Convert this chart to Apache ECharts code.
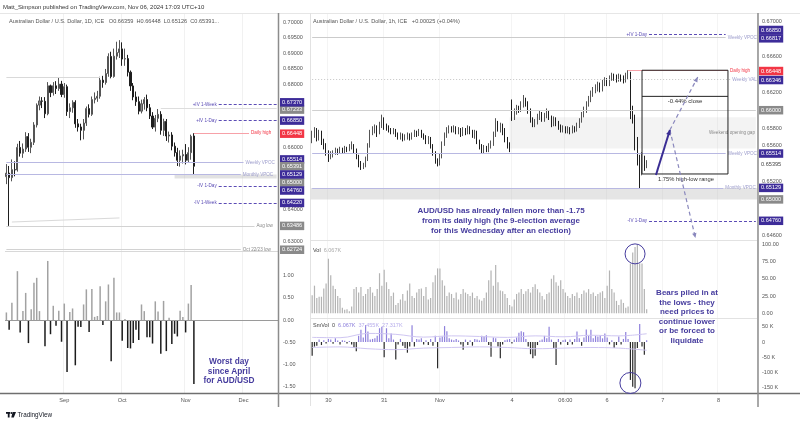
<!DOCTYPE html>
<html>
<head>
<meta charset="utf-8">
<script src="https://cdn.jsdelivr.net/npm/echarts@6/dist/echarts.min.js"></script>
<style>
html,body{margin:0;padding:0;background:#fff;}
#chart{width:800px;height:424px;}
</style>
</head>
<body>
<div id="chart"></div>
<script>
// ================= DATA =================
// Left pane: AUD/USD daily (Aug 2 - Nov 6, 2024)
const leftTickIdx = [21, 42, 65, 86];
const leftTickText = ['Sep', 'Oct', 'Nov', 'Dec'];
const leftPriceTicks = [0.70, 0.695, 0.69, 0.685, 0.68, 0.66, 0.64, 0.63];
const leftOscTicks = [1, 0.5, 0, -0.5, -1, -1.5];

const leftOpen = [0.65060, 0.65171, 0.65028, 0.65282, 0.65275, 0.65993, 0.65808, 0.65940, 0.66342, 0.65997,
 0.66155, 0.66711, 0.67345, 0.67480, 0.67467, 0.67069, 0.67961, 0.67744, 0.67961, 0.67873,
 0.68016, 0.67683, 0.67933, 0.67138, 0.67259, 0.67434, 0.66746, 0.66646, 0.66539, 0.66772,
 0.67233, 0.67051, 0.67520, 0.67567, 0.67628, 0.68142, 0.68067, 0.68353, 0.68900, 0.68259,
 0.68907, 0.69024, 0.69141, 0.68816, 0.68830, 0.68396, 0.67958, 0.67605, 0.67456, 0.67152,
 0.67387, 0.67522, 0.67259, 0.66997, 0.66642, 0.66922, 0.67049, 0.66539, 0.66825, 0.66357,
 0.66390, 0.66032, 0.65827, 0.65583, 0.65721, 0.65767, 0.65583, 0.65826, 0.66359];
const leftHigh = [0.6546, 0.6540, 0.6561, 0.6555, 0.6611, 0.6620, 0.6612, 0.6648, 0.6645, 0.6627,
 0.6680, 0.6740, 0.6762, 0.6760, 0.6760, 0.6808, 0.6800, 0.6808, 0.6811, 0.6824,
 0.6812, 0.6805, 0.6800, 0.6740, 0.6750, 0.6750, 0.6690, 0.6675, 0.6690, 0.6730,
 0.6737, 0.6762, 0.6775, 0.6780, 0.6825, 0.6828, 0.6850, 0.6900, 0.6905, 0.6915,
 0.6937, 0.6942, 0.6935, 0.6915, 0.6895, 0.6845, 0.6805, 0.6778, 0.6762, 0.6752,
 0.6760, 0.6768, 0.6738, 0.6712, 0.6703, 0.6722, 0.6715, 0.6691, 0.6690, 0.6650,
 0.6648, 0.6615, 0.6598, 0.6590, 0.6592, 0.6610, 0.6600, 0.6640, 0.66448];
const leftLow = [0.6482, 0.63486, 0.6491, 0.6507, 0.6522, 0.6570, 0.6566, 0.6585, 0.6585, 0.6581,
 0.6607, 0.6663, 0.6718, 0.6725, 0.6693, 0.6702, 0.6760, 0.6765, 0.6770, 0.6780,
 0.6760, 0.6758, 0.6700, 0.6693, 0.6710, 0.6662, 0.6650, 0.6622, 0.6625, 0.6668,
 0.6695, 0.6700, 0.6740, 0.6745, 0.6755, 0.6790, 0.6800, 0.6825, 0.6820, 0.6822,
 0.6880, 0.6885, 0.6860, 0.6860, 0.6826, 0.6780, 0.6750, 0.6732, 0.6705, 0.6708,
 0.6720, 0.6715, 0.6690, 0.6658, 0.6650, 0.6680, 0.6640, 0.6636, 0.6620, 0.6615,
 0.6590, 0.6570, 0.6540, 0.6538, 0.6548, 0.6545, 0.6550, 0.6560, 0.65126];
const leftClose = [0.65171, 0.65028, 0.65282, 0.65275, 0.65993, 0.65808, 0.65940, 0.66342, 0.65997, 0.66155,
 0.66711, 0.67345, 0.67480, 0.67467, 0.67069, 0.67961, 0.67744, 0.67961, 0.67873, 0.68016,
 0.67683, 0.67933, 0.67138, 0.67259, 0.67434, 0.66746, 0.66646, 0.66539, 0.66772, 0.67233,
 0.67051, 0.67520, 0.67567, 0.67628, 0.68142, 0.68067, 0.68353, 0.68900, 0.68259, 0.68907,
 0.69024, 0.69141, 0.68816, 0.68830, 0.68396, 0.67958, 0.67605, 0.67456, 0.67152, 0.67387,
 0.67522, 0.67259, 0.66997, 0.66642, 0.66922, 0.67049, 0.66539, 0.66825, 0.66357, 0.66390,
 0.66032, 0.65827, 0.65583, 0.65721, 0.65767, 0.65583, 0.65826, 0.66346, 0.65391];
// daily % change histogram
const leftPct = [0.17, -0.22, 0.39, -0.01, 1.10, -0.28, 0.20, 0.61, -0.52, 0.24,
 0.84, 0.95, 0.20, -0.02, -0.59, 1.33, -0.32, 0.32, -0.13, 0.21,
 -0.49, 0.37, -1.17, 0.18, 0.26, -1.02, -0.15, -0.16, 0.35, 0.69,
 -0.27, 0.70, 0.07, 0.09, 0.76, -0.11, 0.42, 0.80, -0.93, 0.95,
 0.17, 0.17, -0.47, 0.02, -0.63, -0.64, -0.52, -0.22, -0.45, 0.35,
 0.20, -0.39, -0.39, -0.53, 0.42, 0.19, -0.76, 0.43, -0.70, 0.05,
 -0.54, -0.31, -0.37, 0.21, 0.07, -0.28, 0.37, 0.79, -1.44];
// price-scale tags (value, kind p=purple r=red g=gray t=plain, vertical nudge px)
const leftTagValues = [0.67233, 0.67370, 0.66850, 0.66448, 0.65514, 0.65391, 0.65000, 0.65129, 0.64760, 0.64220, 0.63486, 0.62724];
const leftTagKinds  = ['g', 'p', 'p', 'r', 'p', 'g', 'g', 'p', 'p', 'p', 'g', 'g'];
const leftTagNudge  = [1, -2, 0, 0.5, -3, 0, 4, 0, 4.5, 0, 0, 0];

// Right pane: AUD/USD 1h (Oct 29 17:00 - Nov 6 17:00, UTC+10)
const rightTickIdx = [7, 31, 55, 86, 109, 127, 151, 175];
const rightTickText = ['30', '31', 'Nov', '4', '06:00', '6', '7', '8'];
const rightPriceTicks = [0.670, 0.666, 0.662, 0.658, 0.656, 0.652, 0.646];
const volTicks = [0, 25, 50, 75, 100];
const smTicks = [50, 0, -50, -100, -150];
const rightTagValues = [0.66850, 0.66817, 0.66448, 0.66346, 0.66000, 0.65514, 0.65395, 0.65129, 0.65000, 0.64760];
const rightTagKinds  = ['p', 'p', 'r', 'p', 'g', 'p', 't', 'p', 'g', 'p'];
const rightTagNudge  = [-4.4, 1, 0.8, 0.7, 0, 0, 0, 0, 0, 0];

const rightOpen = [0.6568, 0.6572, 0.6578, 0.6568,
 0.6575, 0.6565, 0.6560, 0.6552, 0.6547,
 0.6550, 0.6552, 0.6555, 0.6553, 0.6556, 0.6554, 0.6557, 0.6556, 0.6558, 0.6560,
 0.6555, 0.6548, 0.6540, 0.6536, 0.6538,
 0.6545, 0.6560, 0.6575,
 0.6578, 0.6580, 0.6576, 0.6583, 0.6590,
 0.6582, 0.6580, 0.6578, 0.6576, 0.6577, 0.6573, 0.6570, 0.6572, 0.6568,
 0.6570, 0.6572, 0.6569, 0.6572, 0.6575, 0.6573, 0.6576, 0.6572, 0.6570, 0.6565, 0.6568,
 0.6560, 0.6552, 0.6543, 0.6540,
 0.6548, 0.6562, 0.6572, 0.6577, 0.6580,
 0.6578, 0.6580, 0.6576, 0.6578, 0.6573, 0.6578, 0.6575, 0.6580, 0.6576, 0.6572,
 0.6575, 0.6565, 0.6560, 0.6555, 0.6558, 0.6556, 0.6560,
 0.6562, 0.6572, 0.6585, 0.6580, 0.6582,
 0.6578, 0.6568, 0.6562,
 0.6598, 0.6592, 0.6598, 0.6602, 0.6600, 0.6606, 0.6612,
 0.6608, 0.6600, 0.6590, 0.6584,
 0.6587, 0.6592, 0.6596, 0.6590, 0.6594, 0.6598, 0.6592, 0.6585, 0.6590,
 0.6586, 0.6582, 0.6578, 0.6580, 0.6577, 0.6579, 0.6576, 0.6580, 0.6578,
 0.6583, 0.6588, 0.6595, 0.6600, 0.6607, 0.6612, 0.6618,
 0.6622, 0.6625, 0.6628, 0.6624, 0.6630, 0.6633, 0.6630, 0.6636,
 0.6638, 0.6637, 0.6635, 0.6638, 0.6636, 0.6634,
 0.6639, 0.6641, 0.6600, 0.6592, 0.6568, 0.6546, 0.6530, 0.6545, 0.6538];
const rightHigh = [0.6577, 0.6581, 0.6580, 0.6578,
 0.6577, 0.6568, 0.6563, 0.6555, 0.6554,
 0.6555, 0.6558, 0.6557, 0.6559, 0.6558, 0.6560, 0.6559, 0.6562, 0.6565, 0.6562,
 0.6557, 0.6550, 0.6543, 0.6541, 0.6548,
 0.6563, 0.6578, 0.6582,
 0.6584, 0.6583, 0.6587, 0.6595, 0.6592,
 0.6585, 0.6583, 0.6580, 0.6580, 0.6579, 0.6575, 0.6575, 0.6574, 0.6573,
 0.6575, 0.6574, 0.6575, 0.6578, 0.6577, 0.6579, 0.6578, 0.6574, 0.6572, 0.6571, 0.6570,
 0.6562, 0.6554, 0.6546, 0.6551,
 0.6565, 0.6575, 0.6581, 0.6583, 0.6582,
 0.6583, 0.6582, 0.6581, 0.6580, 0.6581, 0.6580, 0.6583, 0.6582, 0.6578, 0.6578,
 0.6577, 0.6567, 0.6562, 0.6561, 0.6560, 0.6563, 0.6566,
 0.6576, 0.6591, 0.6588, 0.6586, 0.6585,
 0.6580, 0.6570, 0.6564,
 0.6612, 0.6602, 0.6606, 0.6605, 0.6610, 0.6617, 0.6614,
 0.6610, 0.6602, 0.6592, 0.6590,
 0.6596, 0.6600, 0.6598, 0.6597, 0.6602, 0.6600, 0.6594, 0.6593, 0.6592,
 0.6588, 0.6584, 0.6583, 0.6582, 0.6582, 0.6581, 0.6583, 0.6582, 0.6586,
 0.6591, 0.6598, 0.6604, 0.6610, 0.6616, 0.6622, 0.6626,
 0.6629, 0.6632, 0.6631, 0.6634, 0.6637, 0.6636, 0.6639, 0.6642,
 0.6641, 0.6640, 0.6641, 0.6640, 0.6639, 0.6642,
 0.66448, 0.6643, 0.6605, 0.6595, 0.6570, 0.6550, 0.6553, 0.6549, 0.6544];
const rightLow = [0.6563, 0.6569, 0.6565, 0.6566,
 0.6561, 0.6556, 0.6549, 0.6542, 0.6545,
 0.6547, 0.6550, 0.6550, 0.6551, 0.6551, 0.6552, 0.6553, 0.6554, 0.6556, 0.6552,
 0.6545, 0.6536, 0.6533, 0.6534, 0.6536,
 0.6543, 0.6558, 0.6572,
 0.6574, 0.6570, 0.6573, 0.6580, 0.6578,
 0.6577, 0.6575, 0.6573, 0.6573, 0.6570, 0.6567, 0.6567, 0.6565, 0.6566,
 0.6567, 0.6566, 0.6567, 0.6570, 0.6570, 0.6571, 0.6569, 0.6567, 0.6562, 0.6562, 0.6557,
 0.6549, 0.6540, 0.6537, 0.6538,
 0.6546, 0.6560, 0.6569, 0.6574, 0.6575,
 0.6575, 0.6573, 0.6573, 0.6570, 0.6571, 0.6572, 0.6573, 0.6573, 0.6569, 0.6568,
 0.6562, 0.6556, 0.6551, 0.6552, 0.6553, 0.6553, 0.6557,
 0.6560, 0.6570, 0.6576, 0.6575, 0.6572,
 0.6564, 0.6557, 0.6553,
 0.6588, 0.6589, 0.6595, 0.6597, 0.6598, 0.6603, 0.6604,
 0.6596, 0.6586, 0.6581, 0.6581,
 0.6584, 0.6589, 0.6587, 0.6587, 0.6591, 0.6589, 0.6581, 0.6582, 0.6582,
 0.6578, 0.6575, 0.6575, 0.6574, 0.6574, 0.6573, 0.6574, 0.6575, 0.6576,
 0.6580, 0.6586, 0.6592, 0.6597, 0.6604, 0.6609, 0.6615,
 0.6619, 0.6621, 0.6620, 0.6621, 0.6627, 0.6627, 0.6627, 0.6633,
 0.6633, 0.6631, 0.6632, 0.6632, 0.6630, 0.6631,
 0.6635, 0.6590, 0.6585, 0.6555, 0.6538, 0.65126, 0.6527, 0.6532, 0.6535];
const rightClose = [0.6572, 0.6578, 0.6568, 0.6575,
 0.6565, 0.6560, 0.6552, 0.6547, 0.6550,
 0.6552, 0.6555, 0.6553, 0.6556, 0.6554, 0.6557, 0.6556, 0.6558, 0.6560, 0.6555,
 0.6548, 0.6540, 0.6536, 0.6538, 0.6545,
 0.6560, 0.6575, 0.6578,
 0.6580, 0.6576, 0.6583, 0.6590, 0.6582,
 0.6580, 0.6578, 0.6576, 0.6577, 0.6573, 0.6570, 0.6572, 0.6568, 0.6570,
 0.6572, 0.6569, 0.6572, 0.6575, 0.6573, 0.6576, 0.6572, 0.6570, 0.6565, 0.6568, 0.6560,
 0.6552, 0.6543, 0.6540, 0.6548,
 0.6562, 0.6572, 0.6577, 0.6580, 0.6578,
 0.6580, 0.6576, 0.6578, 0.6573, 0.6578, 0.6575, 0.6580, 0.6576, 0.6572, 0.6575,
 0.6565, 0.6560, 0.6555, 0.6558, 0.6556, 0.6560, 0.6562,
 0.6572, 0.6585, 0.6580, 0.6582, 0.6578,
 0.6568, 0.6562, 0.6557,
 0.6592, 0.6598, 0.6602, 0.6600, 0.6606, 0.6612, 0.6608,
 0.6600, 0.6590, 0.6584, 0.6587,
 0.6592, 0.6596, 0.6590, 0.6594, 0.6598, 0.6592, 0.6585, 0.6590, 0.6586,
 0.6582, 0.6578, 0.6580, 0.6577, 0.6579, 0.6576, 0.6580, 0.6578, 0.6583,
 0.6588, 0.6595, 0.6600, 0.6607, 0.6612, 0.6618, 0.6622,
 0.6625, 0.6628, 0.6624, 0.6630, 0.6633, 0.6630, 0.6636, 0.6638,
 0.6637, 0.6635, 0.6638, 0.6636, 0.6634, 0.6639,
 0.6641, 0.6600, 0.6592, 0.6568, 0.6546, 0.6530, 0.6545, 0.6538, 0.65395];
const rightVol = [26, 40, 22, 24, 24, 36, 43, 79, 55, 40,
 35, 25, 22, 8, 5, 6, 3, 10, 35, 38,
 30, 38, 25, 28, 35, 38, 30, 25, 35, 58,
 40, 63, 45, 35, 25, 30, 12, 15, 20, 28,
 18, 33, 43, 25, 22, 30, 35, 36, 25, 38,
 20, 22, 45, 55, 65, 65, 48, 40, 25, 30,
 28, 22, 30, 20, 28, 35, 30, 28, 25, 30,
 22, 25, 20, 18, 22, 30, 48, 62, 40, 70,
 45, 33, 32, 28, 22, 12, 10, 20, 28, 30,
 35, 28, 32, 35, 30, 38, 42, 35, 30, 25,
 20, 28, 30, 50, 55, 45, 40, 48, 35, 30,
 25, 22, 28, 25, 30, 22, 28, 33, 30, 35,
 28, 30, 25, 28, 30, 32, 22, 40, 62, 35,
 30, 18, 12, 20, 15, 8, 10, 72, 88, 96,
 99, 72, 72, 35, 6];
const rightSmVol = [-45, -15, -12, 8, -10, 6, -5, 10, 8, -6,
 12, 5, -8, 6, 4, -5, 3, -8, -20, -30,
 20, 40, 15, 55, 34, 8, 10, 12, 20, 45,
 50, -50, 45, 12, 28, 8, -57, -8, 10, -12,
 -20, -35, -15, 55, -15, 10, 8, 12, -8, 6,
 -10, 10, -12, 20, -86, 15, 18, 52, 35, 12,
 8, 6, 10, 5, -8, -25, 8, -10, 6, -12,
 10, 8, 5, 20, 18, 22, -10, -48, 15, 12,
 -15, -53, -8, 6, 8, 10, -5, 8, 15, 30,
 35, 32, 10, -15, -40, -53, -45, -10, 5, 8,
 20, 12, 50, 8, -20, -75, 10, -8, 6, 8,
 -10, 8, -8, 10, 34, 12, -12, 15, 41, 20,
 40, 12, 20, 18, 20, 12, 28, 15, -8, 6,
 -20, -10, 18, -8, 10, 33, 10, -124, -146, -151,
 -20, 59, -15, -42, 6];
const smEnvIdx = [0, 12, 24, 36, 48, 60, 72, 84, 96, 108, 120, 132, 144];
const smUpper = [15, 14, 28, 25, 16, 20, 18, 15, 20, 17, 22, 20, 27];
const smLower = [-18, -16, -22, -25, -20, -18, -16, -18, -22, -20, -18, -20, -27];

// ================= LAYOUT / STYLE =================
const FONT = "'Liberation Sans', Arial, sans-serif";
const LEFT_SLOTS = 99, RIGHT_SLOTS = 192;
const PURPLE = '#3d2c99', GRAYTAG = '#8a8a8a', RED = '#f23645';
const TAGBG = {p: PURPLE, r: RED, g: GRAYTAG, t: 'rgba(0,0,0,0)'};
const TAGFG = {p: '#ffffff', r: '#ffffff', g: '#ffffff', t: '#444444'};
const IVLINE = '#5b4cb5', IVTXT = '#5b4cb5', VPOC = '#b8b8e2', VPOCTXT = '#9d9dcc';
const ANN = '#463c9e';

const leftCats = Array.from({length: LEFT_SLOTS}, (_, i) => 'd' + i);
const rightCats = Array.from({length: RIGHT_SLOTS}, (_, i) => 'h' + i);

function segItem(x0, x1, v, color, type, text, pos, tcolor) {
  return [{coord: [x0, v], lineStyle: {color: color, type: type, width: 1},
    label: text ? {show: true, position: pos, formatter: text, color: tcolor, fontSize: 4.6, distance: 2, fontFamily: FONT} : {show: false}},
    {coord: [x1, v]}];
}
function xCat(g, cats, tickIdx, tickText, show, splitColor) {
  const isTick = (i) => tickIdx.indexOf(i) >= 0;
  return {type: 'category', gridIndex: g, data: cats, boundaryGap: true,
    axisLine: {show: false}, axisTick: {show: false},
    axisLabel: {show: show, interval: (i) => isTick(i), formatter: (v, i) => { const k = tickIdx.indexOf(i); return k >= 0 ? tickText[k] : ''; },
      fontSize: 5.6, color: '#555', margin: 4, fontFamily: FONT},
    splitLine: {show: true, interval: (i) => isTick(i), lineStyle: {color: splitColor, width: 1}}};
}
function yVal(g, min, max, ticks, fmt) {
  return {type: 'value', gridIndex: g, position: 'right', min: min, max: max,
    axisLine: {show: false}, axisTick: {show: false}, splitLine: {show: false},
    axisLabel: {show: true, customValues: ticks, formatter: fmt, fontSize: 5.5, color: '#555', margin: 5, fontFamily: FONT, hideOverlap: false}};
}

const leftK = leftOpen.map((o, i) => [o, leftClose[i], leftLow[i], leftHigh[i]]);
const rightK = rightOpen.map((o, i) => [o, rightClose[i], rightLow[i], rightHigh[i]]);

const option = {
  animation: false,
  backgroundColor: '#ffffff',
  textStyle: {fontFamily: FONT},
  grid: [
    {left: 5, top: 14, width: 273, height: 237},
    {left: 5, top: 251, width: 273, height: 142},
    {left: 311, top: 14, width: 446, height: 226},
    {left: 311, top: 240, width: 446, height: 78},
    {left: 311, top: 318, width: 446, height: 75}
  ],
  xAxis: [
    xCat(0, leftCats, leftTickIdx, leftTickText, false, '#f1f1f1'),
    xCat(1, leftCats, leftTickIdx, leftTickText, true, '#f1f1f1'),
    xCat(2, rightCats, rightTickIdx, rightTickText, false, '#f4f4f4'),
    xCat(3, rightCats, rightTickIdx, rightTickText, false, '#f4f4f4'),
    xCat(4, rightCats, rightTickIdx, rightTickText, true, '#f4f4f4')
  ],
  yAxis: [
    yVal(0, 0.626837, 0.702556, leftPriceTicks, (v) => v.toFixed(5)),
    yVal(1, -1.644, 1.554, leftOscTicks, (v) => v.toFixed(2)),
    yVal(2, 0.645448, 0.670785, rightPriceTicks, (v) => v.toFixed(5)),
    yVal(3, -6.8, 106.1, volTicks, (v) => v.toFixed(2)),
    yVal(4, -166.7, 78.4, smTicks, (v) => v === 0 ? '0' : v + ' K')
  ],
  series: [
    {type: 'candlestick', xAxisIndex: 0, yAxisIndex: 0, data: leftK, barWidth: 1.6,
      itemStyle: {color: '#8a8a8a', color0: '#1e1e1e', borderColor: '#555555', borderColor0: '#1e1e1e', borderWidth: 1},
      markArea: {silent: true, itemStyle: {color: 'rgba(190,190,190,0.45)'},
        data: [[{xAxis: 61, yAxis: 0.65129}, {xAxis: 98, yAxis: 0.65000}]]},
      markLine: {silent: true, symbol: ['none', 'none'], animation: false,
        data: [
          segItem(0, 34, 0.6823, '#d9d9d9', 'solid'),
          [{coord: [2, 0.6361], lineStyle: {color: '#d9d9d9', width: 1, type: 'solid'}, label: {show: false}}, {coord: [41, 0.6374]}],
          segItem(56, 98, 0.67233, '#dddddd', 'solid'),
          segItem(77, 98, 0.67370, IVLINE, [3, 2], '+IV 1-Week', 'start', IVTXT),
          segItem(77, 98, 0.66850, IVLINE, [3, 2], '+IV 1-Day', 'start', IVTXT),
          segItem(68, 88, 0.66448, '#f7a1a8', 'solid', 'Daily high', 'end', RED),
          segItem(0, 86, 0.65514, VPOC, 'solid', 'Weekly VPOC', 'end', VPOCTXT),
          segItem(0, 85, 0.65129, VPOC, 'solid', 'Monthly VPOC', 'end', VPOCTXT),
          segItem(77, 98, 0.64760, IVLINE, [3, 2], '-IV 1-Day', 'start', IVTXT),
          segItem(77, 98, 0.64220, IVLINE, [3, 2], '-IV 1-Week', 'start', IVTXT),
          segItem(0, 90, 0.63486, '#d2d2d2', 'solid', 'Aug low', 'end', '#888'),
          segItem(0, 85, 0.62724, '#d2d2d2', 'solid', 'Oct 22/23 low', 'end', '#888')
        ]}},
    {type: 'bar', xAxisIndex: 1, yAxisIndex: 1, barWidth: 1.5,
      data: leftPct.map(v => ({value: v, itemStyle: {color: v >= 0 ? '#a2a2a2' : '#1c1c1c'}})),
      markLine: {silent: true, symbol: ['none', 'none'], label: {show: false},
        data: [{yAxis: 0, lineStyle: {color: '#9a9a9a', width: 1, type: 'solid'}}]}},
    {type: 'candlestick', xAxisIndex: 2, yAxisIndex: 2, data: rightK, barWidth: 1.3,
      itemStyle: {color: '#7a7a7a', color0: '#1e1e1e', borderColor: '#555555', borderColor0: '#1e1e1e', borderWidth: 1},
      markArea: {silent: true,
        data: [
          [{xAxis: 85, yAxis: 0.6592, itemStyle: {color: 'rgba(200,200,200,0.22)'}}, {xAxis: 191, yAxis: 0.6557}],
          [{yAxis: 0.65129, itemStyle: {color: 'rgba(190,190,190,0.4)'}}, {yAxis: 0.65000}]
        ]},
      markLine: {silent: true, symbol: ['none', 'none'], animation: false,
        data: [
          segItem(0, 178, 0.66817, '#cbcbcb', 'solid', 'Weekly VPOC', 'end', VPOCTXT),
          segItem(145, 178, 0.66850, IVLINE, [3, 2], '+IV 1-Day', 'start', IVTXT),
          segItem(136, 179, 0.66448, '#f7a1a8', 'solid', 'Daily high', 'end', RED),
          segItem(0, 180, 0.66346, '#c4c4c4', [1, 2], 'Weekly VAL', 'end', VPOCTXT),
          segItem(0, 191, 0.66000, '#d0d0d0', 'solid'),
          segItem(0, 170, 0.65745, 'rgba(0,0,0,0)', 'solid', 'Weekend opening gap', 'end', '#8a8a8a'),
          segItem(0, 178, 0.65514, VPOC, 'solid', 'Weekly VPOC', 'end', VPOCTXT),
          segItem(0, 177, 0.65129, VPOC, 'solid', 'Monthly VPOC', 'end', VPOCTXT),
          segItem(145, 191, 0.64760, IVLINE, [3, 2], '-IV 1-Day', 'start', IVTXT)
        ]}},
    {type: 'bar', xAxisIndex: 3, yAxisIndex: 3, barWidth: 1.2, data: rightVol, itemStyle: {color: '#b3b3b3'}},
    {type: 'bar', xAxisIndex: 4, yAxisIndex: 4, barWidth: 1.2,
      data: rightSmVol.map(v => ({value: v, itemStyle: {color: v >= 0 ? '#8e80dc' : '#2a2a2a'}}))},
    {type: 'line', xAxisIndex: 4, yAxisIndex: 4, smooth: 0.4, symbol: 'none',
      lineStyle: {color: '#cfc6f2', width: 1}, data: smEnvIdx.map((i, k) => [i, smUpper[k]])},
    {type: 'line', xAxisIndex: 4, yAxisIndex: 4, smooth: 0.4, symbol: 'none',
      lineStyle: {color: '#cfc6f2', width: 1}, data: smEnvIdx.map((i, k) => [i, smLower[k]])}
  ]
};

const chart = echarts.init(document.getElementById('chart'), null, {renderer: 'canvas'});
chart.setOption(option);

// ================= OVERLAY ANNOTATIONS =================
const boxIdx0 = 142, boxIdx1 = 179, boxTop = 0.66448, boxBottom = 0.65285, boxInner = 0.66155;
const arrowA = [148, 0.65274], arrowB = [154, 0.65778], arrowUp = [166, 0.66372], arrowDown = [165, 0.64567];
const circleVol = [139, 86], circleSm = [137, -134];

function P(g, x, y) { return chart.convertToPixel({gridIndex: g}, [x, y]); }
function head(from, to, len, wid, color) {
  const dx = to[0] - from[0], dy = to[1] - from[1], L = Math.hypot(dx, dy), ux = dx / L, uy = dy / L;
  const bx = to[0] - ux * len, by = to[1] - uy * len;
  return {type: 'polygon', z: 100, shape: {points: [[to[0], to[1]], [bx - uy * wid, by + ux * wid], [bx + uy * wid, by - ux * wid]]}, style: {fill: color}};
}
function ln(x1, y1, x2, y2, stroke, w, dash, z) {
  return {type: 'line', z: z || 100, shape: {x1, y1, x2, y2}, style: {stroke, lineWidth: w, lineDash: dash || null}};
}
function txt(x, y, text, size, fill, opts) {
  return {type: 'text', z: 100, x: x, y: y, style: Object.assign({text: text, fontSize: size, fill: fill, fontFamily: FONT, verticalAlign: 'middle', align: 'left'}, opts || {})};
}
function tags(g, xRight, values, kinds, nudges) {
  return values.map((v, k) => ({type: 'text', z: 120 + k, x: xRight + 2, y: P(g, 0, v)[1] + nudges[k],
    style: {text: v.toFixed(5), fontSize: 5.6, fontFamily: FONT, fill: TAGFG[kinds[k]], backgroundColor: TAGBG[kinds[k]],
      padding: [1.5, 2, 1, 2], verticalAlign: 'middle', align: 'left'}}));
}

const tl = P(2, boxIdx0, boxTop), br = P(2, boxIdx1, boxBottom), inY = P(2, boxIdx0, boxInner)[1];
const pA = P(2, arrowA[0], arrowA[1]), pB = P(2, arrowB[0], arrowB[1]);
const pU = P(2, arrowUp[0], arrowUp[1]), pD = P(2, arrowDown[0], arrowDown[1]);
const cV = P(3, circleVol[0], circleVol[1]), cS = P(4, circleSm[0], circleSm[1]);

const g = [
  // frame lines
  ln(0, 13.5, 800, 13.5, '#e6e6e6', 1, null, 1),
  ln(310.5, 13, 310.5, 406, '#e2e2e2', 1, null, 1),
  ln(5, 251.5, 278, 251.5, '#d8d8d8', 1, null, 1),
  ln(311, 240.5, 757, 240.5, '#e2e2e2', 1, null, 1),
  ln(311, 318.5, 757, 318.5, '#e2e2e2', 1, null, 1),
  ln(0, 393.5, 800, 393.5, '#6f6f6f', 1.3, null, 50),
  ln(278.5, 13, 278.5, 407, '#8c8c8c', 1.5, null, 50),
  ln(758, 13, 758, 407, '#8c8c8c', 1.5, null, 50),
  // header + legends
  txt(3, 7, 'Matt_Simpson published on TradingView.com, Nov 06, 2024 17:03 UTC+10', 6, '#333'),
  txt(9, 21, 'Australian Dollar / U.S. Dollar, 1D, ICE   O0.66359  H0.66448  L0.65126  C0.65391...', 5.6, '#555'),
  txt(313, 21, 'Australian Dollar / U.S. Dollar, 1h, ICE   +0.00025 (+0.04%)', 5.6, '#555'),
  {type: 'text', z: 100, x: 313, y: 250, style: {text: '{a|Vol}  {b|6.067K}', fontSize: 5.5, fontFamily: FONT, verticalAlign: 'middle',
    rich: {a: {fill: '#444', fontSize: 5.5}, b: {fill: '#aaa', fontSize: 5.5}}}},
  {type: 'text', z: 100, x: 313, y: 325, style: {text: '{a|SmVol  0}  {b|6.067K}  {c|37.455K  27.317K}', fontSize: 5.5, fontFamily: FONT, verticalAlign: 'middle',
    rich: {a: {fill: '#444', fontSize: 5.5}, b: {fill: '#8e80dc', fontSize: 5.5}, c: {fill: '#b6aceb', fontSize: 5.5}}}},
  // bold annotations
  txt(229, 357, 'Worst day\nsince April\nfor AUD/USD', 8.3, ANN, {fontWeight: 'bold', align: 'center', verticalAlign: 'top', lineHeight: 9.5}),
  txt(501, 206, 'AUD/USD has already fallen more than -1.75\nfrom its daily high (the 9-election average\nfor this Wednesday after an election)', 8, ANN, {fontWeight: 'bold', align: 'center', verticalAlign: 'top', lineHeight: 10}),
  txt(687, 288, 'Bears piled in at\nthe lows - they\nneed prices to\ncontinue lower\nor be forced to\nliquidate', 8, ANN, {fontWeight: 'bold', align: 'center', verticalAlign: 'top', lineHeight: 9.6}),
  // range box
  {type: 'rect', z: 100, shape: {x: tl[0], y: tl[1], width: br[0] - tl[0], height: br[1] - tl[1]}, style: {fill: 'none', stroke: '#222', lineWidth: 1}},
  ln(tl[0], inY, br[0], inY, '#222', 1),
  txt((tl[0] + br[0]) / 2, inY + 5, '-0.44% close', 6, '#333', {align: 'center'}),
  txt(pA[0] + 2, pA[1] + 4, '1.75% high-low range', 5.8, '#333'),
  // arrows
  ln(pB[0], pB[1], pU[0], pU[1], '#8a88bd', 1.2, [4, 3]),
  head(pB, pU, 5, 2.2, '#8a88bd'),
  ln(pB[0], pB[1], pD[0], pD[1], '#8a88bd', 1.2, [4, 3]),
  head(pB, pD, 5, 2.2, '#8a88bd'),
  ln(pA[0], pA[1], pB[0], pB[1], '#3a2d94', 2),
  head(pA, pB, 5, 2.4, '#3a2d94'),
  // circles
  {type: 'circle', z: 100, shape: {cx: cV[0], cy: cV[1], r: 10}, style: {fill: 'none', stroke: ANN, lineWidth: 1}},
  {type: 'circle', z: 100, shape: {cx: cS[0], cy: cS[1], r: 10.5}, style: {fill: 'none', stroke: ANN, lineWidth: 1}},
  // TradingView logo
  {type: 'rect', z: 100, shape: {x: 6, y: 412, width: 4, height: 1.8}, style: {fill: '#131722'}},
  {type: 'rect', z: 100, shape: {x: 7.8, y: 412, width: 1.8, height: 5.5}, style: {fill: '#131722'}},
  {type: 'circle', z: 100, shape: {cx: 11.4, cy: 413, r: 1}, style: {fill: '#131722'}},
  {type: 'polygon', z: 100, shape: {points: [[12.6, 412], [16, 412], [13.8, 417.5], [11.3, 417.5]]}, style: {fill: '#131722'}},
  txt(17.5, 415, 'TradingView', 6.3, '#131722')
].concat(tags(0, 278, leftTagValues, leftTagKinds, leftTagNudge), tags(2, 757, rightTagValues, rightTagKinds, rightTagNudge));
chart.setOption({graphic: g});
</script>
</body>
</html>
